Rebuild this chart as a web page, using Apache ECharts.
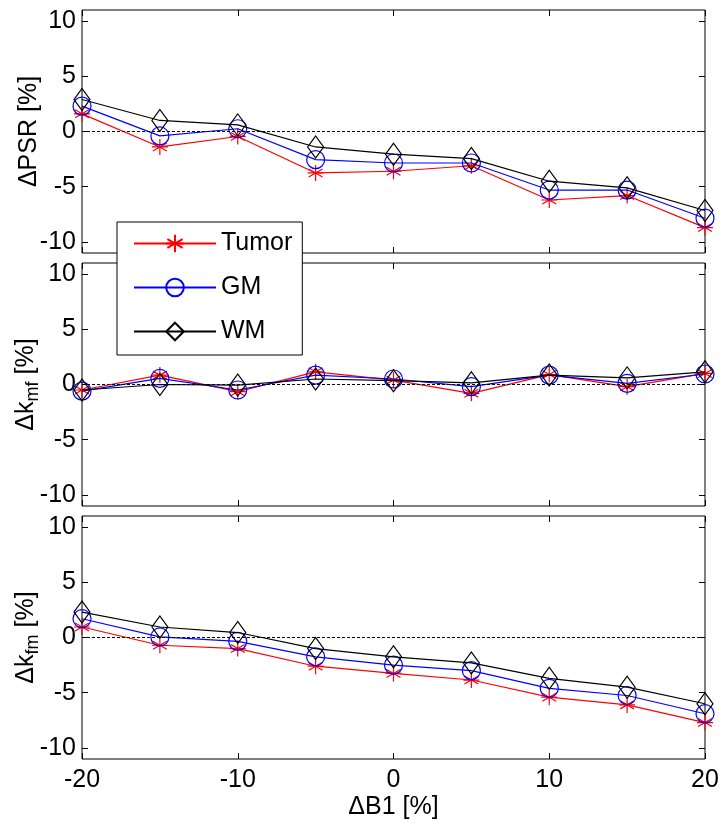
<!DOCTYPE html>
<html>
<head>
<meta charset="utf-8">
<script src="https://cdn.jsdelivr.net/npm/echarts@6/dist/echarts.min.js"></script>
<style>
  html, body { margin: 0; padding: 0; background: #fff; }
  #chart { width: 723px; height: 828px; }
</style>
</head>
<body>
<div id="chart"></div>
<script>
// ΔB1 [%]
const xVals = [-20, -15, -10, -5, 0, 5, 10, 15, 20]
const xTicks = [-20, -10, 0, 10, 20]
const yTicks = [-10, -5, 0, 5, 10]

// ΔPSR [%]
const psrTumor = [1.6, -1.4, -0.45, -3.75, -3.6, -3.1, -6.2, -5.8, -8.7]
const psrGM = [2.3, -0.4, 0.25, -2.55, -2.85, -2.85, -5.3, -5.3, -7.85]
const psrWM = [2.9, 1.0, 0.6, -1.4, -2.05, -2.45, -4.5, -5.1, -7.15]

// Δk_mf [%]
const kmfTumor = [-0.5, 0.85, -0.65, 1.15, 0.4, -0.8, 0.9, -0.2, 1.0]
const kmfGM = [-0.6, 0.55, -0.5, 0.85, 0.5, -0.2, 0.85, 0.1, 0.95]
const kmfWM = [-0.5, 0.0, -0.05, 0.5, 0.35, 0.15, 0.85, 0.6, 1.15]

// Δk_fm [%]
const kfmTumor = [0.95, -0.7, -1.0, -2.6, -3.25, -3.85, -5.4, -6.1, -7.7]
const kfmGM = [1.7, 0.05, -0.35, -1.75, -2.5, -3.0, -4.6, -5.25, -6.9]
const kfmWM = [2.3, 0.95, 0.45, -1.0, -1.75, -2.3, -3.7, -4.5, -6.0]

const seriesNames = ['Tumor', 'GM', 'WM']

const font = 'Liberation Sans, Arial, sans-serif'
const panelTops = [10, 263, 516]
const panelHeight = 243

const panels = [
  { name: '{a|ΔPSR [%]}', data: [psrTumor, psrGM, psrWM] },
  { name: '{a|Δk}{s|mf}{a| [%]}', data: [kmfTumor, kmfGM, kmfWM] },
  { name: '{a|Δk}{s|fm}{a| [%]}', data: [kfmTumor, kfmGM, kfmWM] }
]

const asterisk = 'path://M0,-10L0,10M-8.66,-5L8.66,5M-8.66,5L8.66,-5M-10,0L10,0'
const styles = [
  { color: '#ff0000', symbol: asterisk, symbolSize: 16 },
  { color: '#0000ff', symbol: 'circle', symbolSize: 18 },
  { color: '#000000', symbol: 'diamond', symbolSize: [16, 22] }
]

const tick = { show: true, inside: true, length: 6, lineStyle: { color: '#000' } }

const grid = []
const xAxis = []
const yAxis = []
const series = []

panels.forEach((p, i) => {
  grid.push({
    left: 82,
    right: 18,
    top: panelTops[i],
    height: panelHeight,
    show: true,
    borderColor: '#000',
    borderWidth: 1,
    backgroundColor: '#fff'
  })
  const last = i === panels.length - 1
  // bottom x axis
  xAxis.push({
    gridIndex: i,
    type: 'value',
    position: 'bottom',
    min: -20,
    max: 20,
    interval: 10,
    axisLine: { show: false, onZero: false },
    axisTick: Object.assign({ customValues: xTicks }, tick),
    axisLabel: { show: last, fontSize: 25, color: '#000', fontFamily: font, margin: 9, customValues: xTicks },
    splitLine: { show: false },
    name: last ? 'ΔB1 [%]' : '',
    nameLocation: 'middle',
    nameGap: 36,
    nameMoveOverlap: false,
    nameTextStyle: { fontSize: 25, color: '#000', fontFamily: font }
  })
  // top x axis, ticks only
  xAxis.push({
    gridIndex: i,
    type: 'value',
    position: 'top',
    min: -20,
    max: 20,
    interval: 10,
    axisLine: { show: false, onZero: false },
    axisTick: Object.assign({ customValues: xTicks }, tick),
    axisLabel: { show: false },
    splitLine: { show: false }
  })
  yAxis.push({
    gridIndex: i,
    type: 'value',
    position: 'left',
    min: -11,
    max: 11,
    axisLine: { show: false, onZero: false },
    axisTick: Object.assign({ customValues: yTicks }, tick),
    axisLabel: { fontSize: 25, color: '#000', fontFamily: font, margin: 6, customValues: yTicks },
    splitLine: { show: false },
    name: p.name,
    nameLocation: 'middle',
    nameGap: 40,
    nameMoveOverlap: false,
    nameTextStyle: {
      rich: {
        a: { fontSize: 25, color: '#000', fontFamily: font },
        s: { fontSize: 18, color: '#000', fontFamily: font, padding: [14, 0, 0, 0] }
      }
    }
  })
  // right y axis, ticks only
  yAxis.push({
    gridIndex: i,
    type: 'value',
    position: 'right',
    min: -11,
    max: 11,
    axisLine: { show: false, onZero: false },
    axisTick: Object.assign({ customValues: yTicks }, tick),
    axisLabel: { show: false },
    splitLine: { show: false }
  })

  p.data.forEach((vals, k) => {
    const st = styles[k]
    const s = {
      name: seriesNames[k],
      type: 'line',
      xAxisIndex: i * 2,
      yAxisIndex: i * 2,
      data: xVals.map((x, j) => [x, vals[j]]),
      symbol: st.symbol,
      symbolSize: st.symbolSize,
      lineStyle: { color: st.color, width: 1.2 },
      itemStyle: { color: 'rgba(0,0,0,0)', borderColor: st.color, borderWidth: 1.2 },
      emphasis: { disabled: true },
      z: 3 + k
    }
    if (k === 0) {
      // dashed zero reference line
      s.markLine = {
        silent: true,
        symbol: 'none',
        label: { show: false },
        lineStyle: { color: '#000', type: [3, 2], width: 1 },
        data: [{ yAxis: 0 }]
      }
    }
    series.push(s)
  })
})

const chart = echarts.init(document.getElementById('chart'))
chart.setOption({
  animation: false,
  backgroundColor: '#fff',
  grid: grid,
  xAxis: xAxis,
  yAxis: yAxis,
  legend: {
    data: seriesNames,
    orient: 'vertical',
    left: 117,
    top: 222,
    itemWidth: 82,
    itemHeight: 22,
    itemGap: 19,
    padding: [9, 10, 11, 16],
    backgroundColor: '#fff',
    borderColor: '#000',
    borderWidth: 1,
    borderRadius: 0,
    textStyle: { fontSize: 25, color: '#000', fontFamily: font },
    z: 10
  },
  series: series
})
</script>
</body>
</html>
